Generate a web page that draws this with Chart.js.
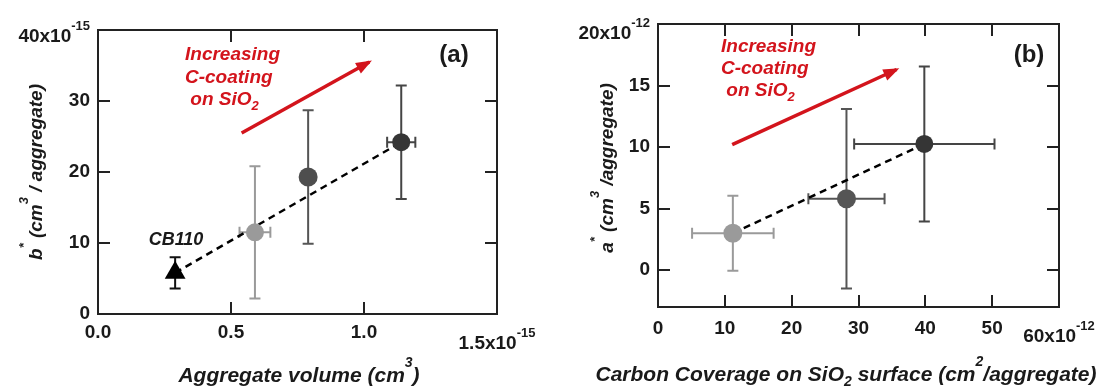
<!DOCTYPE html>
<html><head><meta charset="utf-8">
<script src="https://cdn.jsdelivr.net/npm/chart.js@4.4.1/dist/chart.umd.min.js"></script>
<style>
html,body{margin:0;padding:0;background:#fff;width:1110px;height:387px;overflow:hidden}
.p{position:absolute;top:0;width:555px;height:387px}
#pa{left:0}#pb{left:555px}
</style></head><body>
<div class="p" id="pa"><canvas id="ca" width="555" height="387"></canvas></div>
<div class="p" id="pb"><canvas id="cb" width="555" height="387"></canvas></div>
<script>
// ---------- Panel (a): b* vs aggregate volume ----------
const aVolume    = [0.29, 0.59, 0.79, 1.14];   // ×1e-15 cm³
const aVolumeErr = [0, 0.058, 0, 0.053];
const aBstar     = [5.8, 11.5, 19.3, 24.2];    // ×1e-15 cm³/aggregate
const aBstarErr  = [2.2, 9.3, 9.4, 8.0];
const aFitX   = [0.29, 1.14];
const aFitY   = [5.8, 24.2];
const aArrowX = [0.54, 1.02];
const aArrowY = [25.5, 35.5];
const aXTicks = [0, 0.5, 1.0, 1.5];
const aYTicks = [0, 10, 20, 30, 40];

// ---------- Panel (b): a* vs carbon coverage ----------
const bCoverage    = [11.2, 28.2, 39.85];      // ×1e-12 cm²/aggregate
const bCoverageErr = [6.1, 5.7, 10.5];
const bAstar       = [3.0, 5.8, 10.25];        // ×1e-12 cm³/aggregate
const bAstarErr    = [3.05, 7.3, 6.3];
const bFitX   = [11.2, 39.85];
const bFitY   = [3.0, 10.25];
const bArrowX = [11.1, 35.7];
const bArrowY = [10.2, 16.3];
const bXTicks = [0, 10, 20, 30, 40, 50, 60];
const bYTicks = [0, 5, 10, 15, 20];

const FONT = '"Liberation Sans", Arial, Helvetica, sans-serif';
const RED = '#d3141c';
const INK = '#1a1a1a';

function drawRich(ctx, segs, x, y, align, size, style, color, rise) {
  const small = Math.round(size * 0.68);
  const widths = segs.map(s => {
    ctx.font = `${style} ${(s.sup || s.sub) ? small : size}px ${FONT}`;
    return ctx.measureText(s.t).width;
  });
  const total = widths.reduce((a, b) => a + b, 0);
  let cx = align === 'center' ? x - total / 2 : align === 'right' ? x - total : x;
  ctx.textAlign = 'left'; ctx.textBaseline = 'alphabetic'; ctx.fillStyle = color;
  segs.forEach((s, i) => {
    ctx.font = `${style} ${(s.sup || s.sub) ? small : size}px ${FONT}`;
    const dy = s.sup ? -(rise || size * 0.7) : s.sub ? size * 0.25 : 0;
    ctx.fillText(s.t, cx, y + dy);
    cx += widths[i];
  });
}

function makeDecor(d) {
  return {
    id: 'decor' + d.id,
    beforeDatasetsDraw(chart) {
      const ctx = chart.ctx, xs = chart.scales.x, ys = chart.scales.y;
      ctx.save();
      ctx.lineWidth = 2;
      d.x.forEach((xv, i) => {
        const px = xs.getPixelForValue(xv), py = ys.getPixelForValue(d.y[i]);
        ctx.strokeStyle = d.barColors[i];
        ctx.beginPath();
        if (d.yErr[i]) {
          const t = ys.getPixelForValue(d.y[i] + d.yErr[i]), b = ys.getPixelForValue(d.y[i] - d.yErr[i]);
          ctx.moveTo(px, t); ctx.lineTo(px, b);
          ctx.moveTo(px - 5.5, t); ctx.lineTo(px + 5.5, t);
          ctx.moveTo(px - 5.5, b); ctx.lineTo(px + 5.5, b);
        }
        if (d.xErr[i]) {
          const l = xs.getPixelForValue(xv - d.xErr[i]), r = xs.getPixelForValue(xv + d.xErr[i]);
          ctx.moveTo(l, py); ctx.lineTo(r, py);
          ctx.moveTo(l, py - 5.5); ctx.lineTo(l, py + 5.5);
          ctx.moveTo(r, py - 5.5); ctx.lineTo(r, py + 5.5);
        }
        ctx.stroke();
      });
      ctx.restore();
    },
    afterDatasetsDraw(chart) {
      const ctx = chart.ctx, xs = chart.scales.x, ys = chart.scales.y;
      const sx = xs.getPixelForValue(d.arrowX[0]), sy = ys.getPixelForValue(d.arrowY[0]);
      const ex = xs.getPixelForValue(d.arrowX[1]), ey = ys.getPixelForValue(d.arrowY[1]);
      const a = Math.atan2(ey - sy, ex - sx);
      const ux = Math.cos(a), uy = Math.sin(a);
      const tx = ex + ux * 3, ty = ey + uy * 3;
      const bx = tx - ux * 16, by = ty - uy * 16;
      ctx.save();
      ctx.fillStyle = RED;
      ctx.beginPath();
      ctx.moveTo(tx, ty);
      ctx.lineTo(bx - uy * 6, by + ux * 6);
      ctx.lineTo(bx + uy * 6, by - ux * 6);
      ctx.closePath(); ctx.fill();
      ctx.restore();
    },
    afterDraw(chart) {
      const ctx = chart.ctx, ca = chart.chartArea, xs = chart.scales.x, ys = chart.scales.y;
      ctx.save();
      // frame
      ctx.strokeStyle = '#222'; ctx.lineWidth = 2;
      ctx.strokeRect(ca.left, ca.top, ca.right - ca.left, ca.bottom - ca.top);
      // inner ticks (mirrored)
      ctx.beginPath();
      d.xTicks.forEach(v => {
        if (v <= d.xMin || v >= d.xMax) return;
        const p = Math.round(xs.getPixelForValue(v));
        ctx.moveTo(p, ca.bottom); ctx.lineTo(p, ca.bottom - 12);
        ctx.moveTo(p, ca.top); ctx.lineTo(p, ca.top + 12);
      });
      d.yTicks.forEach(v => {
        if (v <= d.yMin || v >= d.yMax) return;
        const p = Math.round(ys.getPixelForValue(v));
        ctx.moveTo(ca.left, p); ctx.lineTo(ca.left + 12, p);
        ctx.moveTo(ca.right, p); ctx.lineTo(ca.right - 12, p);
      });
      ctx.stroke();
      // exponent tick labels
      const yTop = ys.getPixelForValue(d.yMax);
      drawRich(ctx, [{t: d.yExpBase}, {t: d.yExp, sup: true}], ca.left - 8, yTop + d.yExpDy + 7, 'right', 19, 'bold', INK, 12);
      const xEnd = xs.getPixelForValue(d.xMax);
      drawRich(ctx, [{t: d.xExpBase}, {t: d.xExp, sup: true}], xEnd, ca.bottom + 28 + 7, 'center', 19, 'bold', INK, 12);
      // annotation
      d.noteLines.forEach((segs, i) => {
        drawRich(ctx, segs, d.noteX, d.noteY[i] + 7, 'left', 19, 'italic bold', RED, 0);
      });
      // panel letter
      ctx.font = `bold 24px ${FONT}`; ctx.fillStyle = INK; ctx.textAlign = 'center'; ctx.textBaseline = 'middle';
      ctx.fillText(d.letter, d.letterX, d.letterY);
      if (d.pointLabel) {
        drawRich(ctx, [{t: d.pointLabel.t}], d.pointLabel.x, d.pointLabel.y + 7, 'center', 18, 'italic bold', INK, 0);
      }
      // axis titles
      drawRich(ctx, d.xTitle, d.xTitleX, d.xTitleY + 7, 'center', 21, 'italic bold', INK, 15);
      ctx.translate(d.yTitleX, d.yTitleY);
      ctx.rotate(-Math.PI / 2);
      drawRich(ctx, d.yTitle, 0, 7, 'center', 19, 'italic bold', INK, 14);
      ctx.restore();
    }
  };
}

function buildPanel(canvasId, d) {
  const pts = d.x.map((x, i) => ({x: x, y: d.y[i]}));
  const tickFont = {family: FONT, size: 19, weight: 'bold'};
  return new Chart(document.getElementById(canvasId), {
    type: 'scatter',
    data: {
      datasets: [
        {label: 'samples', data: pts, pointStyle: d.shapes, pointRadius: d.radii, pointHoverRadius: d.radii,
         backgroundColor: d.colors, borderColor: d.colors, borderWidth: 0, order: 0},
        {type: 'line', label: 'trend', data: d.fitX.map((x, i) => ({x: x, y: d.fitY[i]})),
         borderColor: '#000', borderWidth: 2.5, borderDash: [7, 5], pointRadius: 0, fill: false, order: 1},
        {type: 'line', label: 'arrow', data: d.arrowX.map((x, i) => ({x: x, y: d.arrowY[i]})),
         borderColor: RED, borderWidth: 3.5, pointRadius: 0, fill: false, order: 2}
      ]
    },
    options: {
      responsive: false, animation: false, devicePixelRatio: 1,
      layout: {padding: d.padding},
      events: [],
      plugins: {legend: {display: false}, tooltip: {enabled: false}},
      scales: {
        x: {type: 'linear', min: d.xMin, max: d.xMax,
            afterBuildTicks: s => { s.ticks = d.xTicks.map(v => ({value: v})); },
            afterFit: s => { s.height = d.xAxisHeight; },
            grid: {display: false, drawTicks: false}, border: {display: false},
            ticks: {autoSkip: false, maxRotation: 0, padding: d.xPad, font: tickFont, color: INK,
                    callback: v => (v === d.xMax ? '' : d.xFmt(v))}},
        y: {type: 'linear', min: d.yMin, max: d.yMax,
            afterBuildTicks: s => { s.ticks = d.yTicks.map(v => ({value: v})); },
            afterFit: s => { s.width = d.yAxisWidth; },
            grid: {display: false, drawTicks: false}, border: {display: false},
            ticks: {padding: 8, font: tickFont, color: INK,
                    callback: v => (v === d.yMax ? '' : String(v))}}
      }
    },
    plugins: [makeDecor(d)]
  });
}

buildPanel('ca', {
  id: 'a',
  x: aVolume, y: aBstar, xErr: aVolumeErr, yErr: aBstarErr,
  fitX: aFitX, fitY: aFitY, arrowX: aArrowX, arrowY: aArrowY,
  xTicks: aXTicks, yTicks: aYTicks,
  xMin: 0, xMax: 1.5, yMin: 0, yMax: 40,
  xFmt: v => v.toFixed(1),
  colors: ['#000000', '#9a9a9a', '#4e4e4e', '#353535'],
  barColors: ['#111111', '#9a9a9a', '#555555', '#454545'],
  shapes: ['triangle', 'circle', 'circle', 'circle'],
  radii: [12, 9, 9.5, 9],
  padding: {left: 0, right: 58, top: 30, bottom: 0},
  yAxisWidth: 98, xAxisHeight: 73, xPad: 7,
  yExpBase: '40x10', yExp: '-15', yExpDy: 5,
  xExpBase: '1.5x10', xExp: '-15',
  noteX: 185, noteY: [53, 76, 98],
  noteLines: [[{t: 'Increasing'}], [{t: 'C-coating'}], [{t: ' on SiO'}, {t: '2', sub: true}]],
  letter: '(a)', letterX: 454, letterY: 55,
  pointLabel: {t: 'CB110', x: 176, y: 238},
  xTitle: [{t: 'Aggregate volume (cm'}, {t: '3', sup: true}, {t: ')'}], xTitleX: 299, xTitleY: 375,
  yTitle: [{t: 'b'}, {t: '*', sup: true}, {t: ' (cm'}, {t: '3', sup: true}, {t: ' / aggregate)'}], yTitleX: 35, yTitleY: 172
});

buildPanel('cb', {
  id: 'b',
  x: bCoverage, y: bAstar, xErr: bCoverageErr, yErr: bAstarErr,
  fitX: bFitX, fitY: bFitY, arrowX: bArrowX, arrowY: bArrowY,
  xTicks: bXTicks, yTicks: bYTicks,
  xMin: 0, xMax: 60, yMin: -3, yMax: 20,
  xFmt: v => String(v),
  colors: ['#9a9a9a', '#555555', '#353535'],
  barColors: ['#9a9a9a', '#555555', '#454545'],
  shapes: ['circle', 'circle', 'circle'],
  radii: [9.5, 9.5, 9],
  padding: {left: 0, right: 51, top: 24, bottom: 0},
  yAxisWidth: 103, xAxisHeight: 80, xPad: 10,
  yExpBase: '20x10', yExp: '-12', yExpDy: 8,
  xExpBase: '60x10', xExp: '-12',
  noteX: 166, noteY: [45, 67, 89],
  noteLines: [[{t: 'Increasing'}], [{t: 'C-coating'}], [{t: ' on SiO'}, {t: '2', sub: true}]],
  letter: '(b)', letterX: 474, letterY: 55,
  pointLabel: null,
  xTitle: [{t: 'Carbon Coverage on SiO'}, {t: '2', sub: true}, {t: ' surface (cm'}, {t: '2', sup: true}, {t: '/aggregate)'}], xTitleX: 291, xTitleY: 374,
  yTitle: [{t: 'a'}, {t: '*', sup: true}, {t: ' (cm'}, {t: '3', sup: true}, {t: ' /aggregate)'}], yTitleX: 51, yTitleY: 168
});
</script>
</body></html>
